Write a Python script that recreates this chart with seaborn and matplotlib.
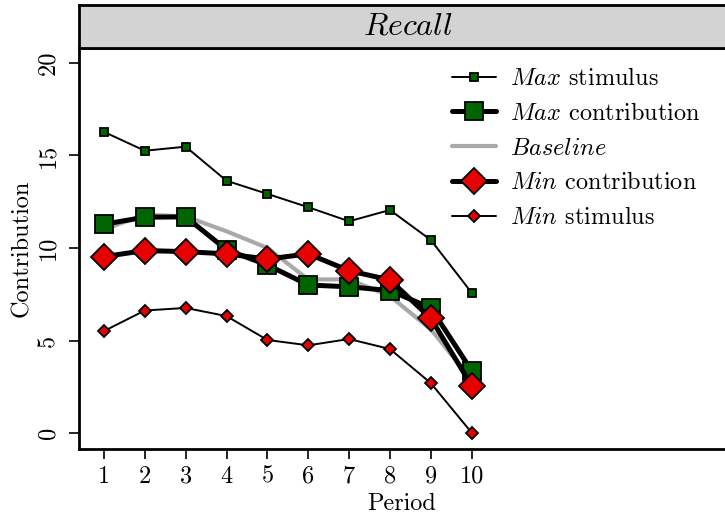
import matplotlib
matplotlib.use("Agg")
import matplotlib.pyplot as plt
import seaborn as sns
import pandas as pd

sns.set_theme(style="white")
plt.rcParams["font.family"] = ["cmr10", "DejaVu Serif"]
plt.rcParams["mathtext.fontset"] = "cm"
plt.rcParams["axes.formatter.use_mathtext"] = True

periods = [1, 2, 3, 4, 5, 6, 7, 8, 9, 10]
max_stimulus = [16.27, 15.25, 15.47, 13.63, 12.92, 12.2, 11.44, 12.05, 10.43, 7.58]
max_contribution = [11.28, 11.66, 11.68, 9.9, 9.08, 8.0, 7.9, 7.7, 6.76, 3.37]
baseline = [11.0, 11.8, 11.7, 10.9, 10.0, 8.3, 8.3, 7.4, 5.6, 2.9]
min_contribution = [9.53, 9.86, 9.8, 9.68, 9.4, 9.68, 8.77, 8.27, 6.2, 2.56]
min_stimulus = [5.51, 6.62, 6.76, 6.32, 5.03, 4.74, 5.08, 4.54, 2.7, 0.02]

labels = [r"$Max$ stimulus", r"$Max$ contribution", r"$Baseline$",
          r"$Min$ contribution", r"$Min$ stimulus"]

df = pd.DataFrame({
    "Period": periods,
    "max_stim": max_stimulus,
    "max_contrib": max_contribution,
    "base": baseline,
    "min_contrib": min_contribution,
    "min_stim": min_stimulus,
})

GREEN = "#006400"
RED = "#E60000"
FS = 17.5

fig = plt.figure(figsize=(7.25, 5.16), dpi=100)
ax = fig.add_axes([79 / 725, 1 - 449 / 516, 1 - 79 / 725, (449 - 48) / 516])

sns.lineplot(data=df, x="Period", y="base", ax=ax, color="#A9A9A9",
             linewidth=3, zorder=2, label=labels[2])
styles = [
    ("max_stim", GREEN, "s", 6.3, 1.4, 0),
    ("min_stim", RED, "D", 6, 1.4, 4),
    ("max_contrib", GREEN, "s", 12.8, 3.6, 1),
    ("min_contrib", RED, "D", 13.5, 3.6, 3),
]
for col, fc, mk, ms, lw, idx in styles:
    sns.lineplot(data=df, x="Period", y=col, ax=ax, color="black", linewidth=lw,
                 marker=mk, markersize=ms, markerfacecolor=fc,
                 markeredgecolor="black", markeredgewidth=1.3,
                 zorder=3 + idx, label=labels[idx])

ax.set_xlim(0.39, 16.2)
ax.set_ylim(-0.86, 20.8)
ax.set_xticks(periods)
ax.set_xticklabels([str(p) for p in periods])
ax.set_yticks([0, 5, 10, 15, 20])
ax.set_yticklabels(["0", "5", "10", "15", "20"], rotation=90, va="center")
ax.tick_params(axis="both", direction="out", length=7, width=1.2, colors="black",
               labelsize=FS)
ax.tick_params(axis="x", pad=5)
ax.tick_params(axis="y", pad=7)
ax.tick_params(bottom=True, left=True)
for side in ["left", "bottom", "top"]:
    ax.spines[side].set_color("black")
    ax.spines[side].set_linewidth(2)
ax.spines["right"].set_visible(False)
ax.set_xlabel("Period", fontsize=FS, color="black", labelpad=4)
ax.set_ylabel("Contribution", fontsize=FS, color="black", labelpad=3)

h, l = ax.get_legend_handles_labels()
hmap = dict(zip(l, h))
leg = ax.legend([hmap[t] for t in labels], labels, loc="upper left",
                bbox_to_anchor=(452 / 725, 1 - 68 / 516), bbox_transform=fig.transFigure,
                frameon=False, fontsize=FS, handlelength=1.8, handletextpad=0.6,
                labelspacing=0.52, borderpad=0, borderaxespad=0)
for t in leg.get_texts():
    t.set_color("black")

# strip header
sax = fig.add_axes([79 / 725, 1 - 48 / 516, 1 - 79 / 725, 43 / 516])
sax.set_facecolor("#D3D3D3")
sax.set_xticks([])
sax.set_yticks([])
for side in ["left", "bottom", "top"]:
    sax.spines[side].set_color("black")
    sax.spines[side].set_linewidth(2)
sax.spines["right"].set_visible(False)
sax.text((408 - 79) / (725 - 79), 0.5, r"$Recall$",
         ha="center", va="center", fontsize=23, transform=sax.transAxes, color="black")

fig.savefig("out.png", dpi=100)
